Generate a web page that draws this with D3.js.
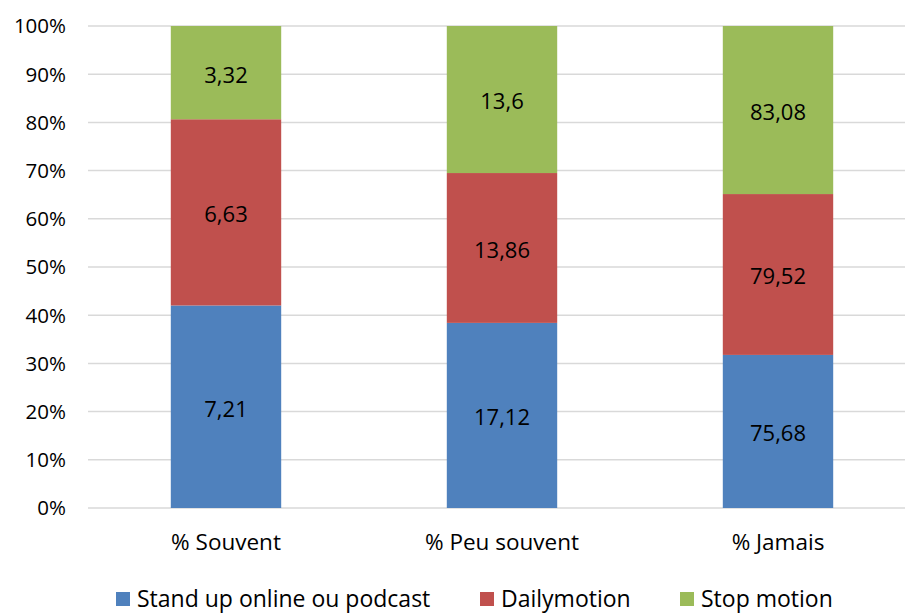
<!DOCTYPE html>
<html>
<head>
<meta charset="utf-8">
<script src="https://cdn.jsdelivr.net/npm/d3@7"></script>
<style>
  body { margin: 0; background: #fff; }
  svg { display: block; font-family: "Open Sans", sans-serif; }
</style>
</head>
<body>
<div id="chart"></div>
<script>
// data
var categories = ["% Souvent", "% Peu souvent", "% Jamais"];
var seriesNames = ["Stand up online ou podcast", "Dailymotion", "Stop motion"];
var standUp = [7.21, 17.12, 75.68];
var dailymotion = [6.63, 13.86, 79.52];
var stopMotion = [3.32, 13.6, 83.08];
var colors = ["#4F81BD", "#C0504D", "#9BBB59"];
var yTicks = [0, 0.1, 0.2, 0.3, 0.4, 0.5, 0.6, 0.7, 0.8, 0.9, 1];

var width = 905, height = 613;
var plot = {left: 88, right: 916, top: 26, bottom: 508};

var svg = d3.select("#chart")
    .append("svg")
        .attr("width", width)
        .attr("height", height);

// one row per category, then stack normalized to 100%
var rows = categories.map(function(c, i) {
    return {cat: c, s0: standUp[i], s1: dailymotion[i], s2: stopMotion[i]};
});
var stack = d3.stack()
    .keys(["s0", "s1", "s2"])
    .offset(d3.stackOffsetExpand);
var layers = stack(rows);

var x = d3.scaleBand()
    .domain(categories)
    .range([plot.left, plot.right])
    .paddingInner(0.6)
    .paddingOuter(0.3);

var y = d3.scaleLinear()
    .domain([0, 1])
    .range([plot.bottom, plot.top]);

// gridlines
svg.append("g")
    .selectAll("line")
    .data(yTicks)
    .enter()
    .append("line")
    .attr("x1", plot.left)
    .attr("x2", plot.right)
    .attr("y1", function(d) { return y(d); })
    .attr("y2", function(d) { return y(d); })
    .attr("stroke", "#D9D9D9")
    .attr("stroke-width", 1.5);

// y labels
svg.append("g")
    .selectAll("text")
    .data(yTicks)
    .enter()
    .append("text")
    .attr("x", 66)
    .attr("y", function(d) { return y(d); })
    .attr("dy", "0.36em")
    .attr("text-anchor", "end")
    .attr("font-size", 20.5)
    .attr("fill", "#000")
    .text(d3.format(".0%"));

// bars
var layerG = svg.append("g")
    .selectAll("g")
    .data(layers)
    .enter()
    .append("g")
    .attr("fill", function(d, i) { return colors[i]; });

layerG.selectAll("rect")
    .data(function(d) { return d; })
    .enter()
    .append("rect")
    .attr("x", function(d) { return x(d.data.cat); })
    .attr("width", x.bandwidth())
    .attr("y", function(d) { return y(d[1]); })
    .attr("height", function(d) { return y(d[0]) - y(d[1]); });

// value labels
layers.forEach(function(layer) {
    svg.append("g")
        .selectAll("text")
        .data(layer)
        .enter()
        .append("text")
        .attr("x", function(d) { return x(d.data.cat) + x.bandwidth() / 2; })
        .attr("y", function(d) { return (y(d[0]) + y(d[1])) / 2; })
        .attr("dy", "0.45em")
        .attr("text-anchor", "middle")
        .attr("font-size", 22)
        .attr("fill", "#000")
        .text(function(d) { return String(d.data[layer.key]).replace(".", ","); });
});

// category labels
svg.append("g")
    .selectAll("text")
    .data(categories)
    .enter()
    .append("text")
    .attr("x", function(d) { return x(d) + x.bandwidth() / 2; })
    .attr("y", 550)
    .attr("text-anchor", "middle")
    .attr("font-size", 22.5)
    .attr("fill", "#000")
    .text(function(d) { return d; });

// legend
var legendX = [116, 480, 680];
var legend = svg.append("g")
    .selectAll("g")
    .data(seriesNames)
    .enter()
    .append("g")
    .attr("transform", function(d, i) { return "translate(" + legendX[i] + ",592)"; });

legend.append("rect")
    .attr("width", 14)
    .attr("height", 14)
    .attr("fill", function(d, i) { return colors[i]; });

legend.append("text")
    .attr("x", 21)
    .attr("y", 15)
    .attr("font-size", 23)
    .attr("fill", "#000")
    .text(function(d) { return d; });
</script>
</body>
</html>
